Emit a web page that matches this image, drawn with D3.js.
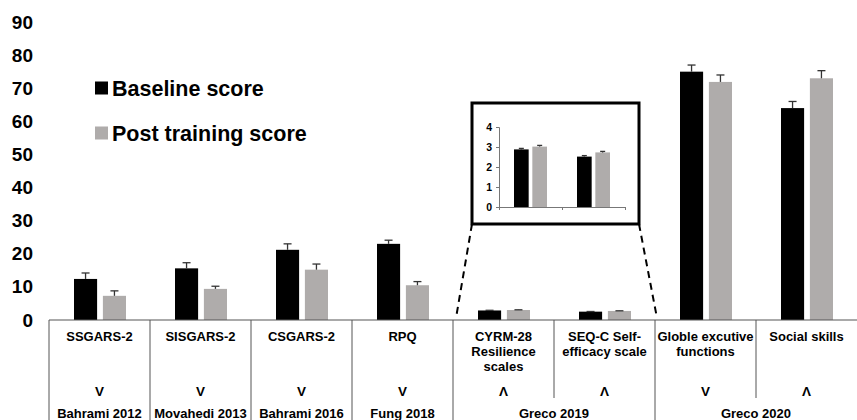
<!DOCTYPE html>
<html>
<head>
<meta charset="utf-8">
<script src="https://cdn.jsdelivr.net/npm/d3@7"></script>
<style>
  body { margin: 0; background: #fff; }
  svg { display: block; font-family: "Liberation Sans", Arial, sans-serif; font-weight: bold; }
</style>
</head>
<body>
<svg id="chart" width="857" height="420"></svg>
<script>
// data
var categories = ["SSGARS-2", "SISGARS-2", "CSGARS-2", "RPQ", "CYRM-28\nResilience\nscales",
                  "SEQ-C Self-\nefficacy scale", "Globle excutive\nfunctions", "Social skills"];
var studies = ["Bahrami 2012", "Movahedi 2013", "Bahrami 2016", "Fung 2018",
               "Greco 2019", "Greco 2019", "Greco 2020", "Greco 2020"];
var direction = ["V", "V", "V", "V", "\u039B", "\u039B", "V", "\u039B"];
var baseline = [12.4, 15.6, 21.2, 23.0, 2.88, 2.52, 75.0, 64.0];
var baselineErr = [1.8, 1.7, 1.8, 1.1, 0.05, 0.05, 2.0, 2.0];
var post = [7.3, 9.4, 15.2, 10.5, 3.02, 2.73, 71.9, 73.0];
var postErr = [1.5, 0.8, 1.7, 1.1, 0.06, 0.05, 2.1, 2.3];
var yTicks = [0, 10, 20, 30, 40, 50, 60, 70, 80, 90];

// inset: the two Greco 2019 measures
var insetIdx = [4, 5];
var insetTicks = [0, 1, 2, 3, 4];

var series = [
  {key: "Baseline score", vals: baseline, err: baselineErr, color: "#000000"},
  {key: "Post training score", vals: post, err: postErr, color: "#afacab"}
];

var svg = d3.select("#chart");

var x = d3.scaleBand().domain(categories).range([49, 857]).paddingInner(0).paddingOuter(0);
var xs = d3.scaleBand().domain(series.map(function(s) { return s.key; }))
    .range([25, 77]).paddingInner(0.2);
var y = d3.scaleLinear().domain([0, 90]).range([320, 22]);

// y axis: labels only
var yAxis = svg.append("g")
    .attr("transform", "translate(33,0)")
    .call(d3.axisLeft(y).tickValues(yTicks).tickSize(0).tickPadding(0));
yAxis.select(".domain").remove();
yAxis.selectAll("text")
    .attr("font-size", 19).attr("font-weight", "bold")
    .attr("font-family", "Liberation Sans, Arial, sans-serif").attr("fill", "#000");

// bars
function drawBars(g, xScale, subScale, yScale, idx, capW) {
  series.forEach(function(s) {
    var rows = idx.map(function(i) { return {cat: categories[i], v: s.vals[i], e: s.err[i]}; });
    g.selectAll(null).data(rows).enter().append("rect")
        .attr("x", function(d) { return xScale(d.cat) + subScale(s.key); })
        .attr("y", function(d) { return yScale(d.v); })
        .attr("width", subScale.bandwidth())
        .attr("height", function(d) { return yScale(0) - yScale(d.v); })
        .attr("fill", s.color);
    var eg = g.selectAll(null).data(rows).enter().append("g")
        .attr("stroke", "#333").attr("stroke-width", 1.3);
    eg.append("line")
        .attr("x1", function(d) { return xScale(d.cat) + subScale(s.key) + subScale.bandwidth() / 2; })
        .attr("x2", function(d) { return xScale(d.cat) + subScale(s.key) + subScale.bandwidth() / 2; })
        .attr("y1", function(d) { return yScale(d.v); })
        .attr("y2", function(d) { return yScale(d.v + d.e); });
    eg.append("line")
        .attr("x1", function(d) { return xScale(d.cat) + subScale(s.key) + subScale.bandwidth() / 2 - capW / 2; })
        .attr("x2", function(d) { return xScale(d.cat) + subScale(s.key) + subScale.bandwidth() / 2 + capW / 2; })
        .attr("y1", function(d) { return yScale(d.v + d.e); })
        .attr("y2", function(d) { return yScale(d.v + d.e); });
  });
}
drawBars(svg.append("g"), x, xs, y, d3.range(categories.length), 8);

// table under the chart
var table = svg.append("g").attr("stroke", "#555").attr("stroke-width", 1);
table.append("line").attr("x1", 49).attr("x2", 857).attr("y1", y(0)).attr("y2", y(0));
categories.forEach(function(c, i) {
  var sameStudy = i > 0 && studies[i] === studies[i - 1];
  table.append("line")
      .attr("x1", x(c)).attr("x2", x(c))
      .attr("y1", y(0)).attr("y2", sameStudy ? 398 : 420);
});

var labels = svg.append("g").attr("font-size", 13).attr("text-anchor", "middle").attr("fill", "#000");
categories.forEach(function(c, i) {
  var cx = x(c) + x.bandwidth() / 2;
  c.split("\n").forEach(function(line, j) {
    labels.append("text").attr("x", cx).attr("y", 341 + j * 15).text(line);
  });
  labels.append("text").attr("x", cx).attr("y", 396).attr("font-size", 13.5).text(direction[i]);
});
var studyNames = Array.from(new Set(studies));
studyNames.forEach(function(s) {
  var cats = categories.filter(function(c, i) { return studies[i] === s; });
  var x0 = x(cats[0]), x1 = x(cats[cats.length - 1]) + x.bandwidth();
  labels.append("text").attr("x", (x0 + x1) / 2).attr("y", 418).text(s);
});

// legend
var legend = svg.append("g");
series.forEach(function(s, i) {
  var cy = 88 + i * 45;
  legend.append("rect").attr("x", 95).attr("y", cy - 6.5).attr("width", 13).attr("height", 13).attr("fill", s.color);
  legend.append("text").attr("x", 112).attr("y", cy + 7.5).attr("font-size", 21.5).attr("fill", "#000").text(s.key);
});

// zoom lines and inset
var box = {x: 472, y: 103, w: 167, h: 121};
var zoomLines = svg.append("g").attr("stroke", "#000").attr("stroke-width", 2).attr("stroke-dasharray", "7,5");
zoomLines.append("line").attr("x1", box.x).attr("y1", box.y + box.h).attr("x2", 456).attr("y2", y(0) - 2);
zoomLines.append("line").attr("x1", box.x + box.w).attr("y1", box.y + box.h).attr("x2", 657).attr("y2", y(0) - 2);

svg.append("rect").attr("x", box.x).attr("y", box.y).attr("width", box.w).attr("height", box.h)
    .attr("fill", "#fff").attr("stroke", "#000").attr("stroke-width", 3);

var inCats = insetIdx.map(function(i) { return categories[i]; });
var xIn = d3.scaleBand().domain(inCats).range([499, 625]);
var xsIn = d3.scaleBand().domain(series.map(function(s) { return s.key; })).range([15, 48]).paddingInner(0.2);
var yIn = d3.scaleLinear().domain([0, 4]).range([207, 127]);

var inset = svg.append("g");
drawBars(inset, xIn, xsIn, yIn, insetIdx, 5);

var yInAxis = inset.append("g").attr("transform", "translate(499,0)")
    .call(d3.axisLeft(yIn).tickValues(insetTicks).tickSize(3).tickPadding(4).tickFormat(d3.format("d")));
yInAxis.selectAll("line, path").attr("stroke", "#777");
yInAxis.selectAll("text").attr("font-size", 10.5).attr("font-weight", "bold")
    .attr("font-family", "Liberation Sans, Arial, sans-serif").attr("fill", "#000");

var xInLin = d3.scaleLinear().domain([0, inCats.length]).range(xIn.range());
var xInAxis = inset.append("g").attr("transform", "translate(0," + yIn(0) + ")")
    .call(d3.axisBottom(xInLin).tickValues(d3.range(inCats.length + 1)).tickSize(3).tickSizeOuter(3).tickFormat(""));
xInAxis.selectAll("line, path").attr("stroke", "#777");
</script>
</body>
</html>
